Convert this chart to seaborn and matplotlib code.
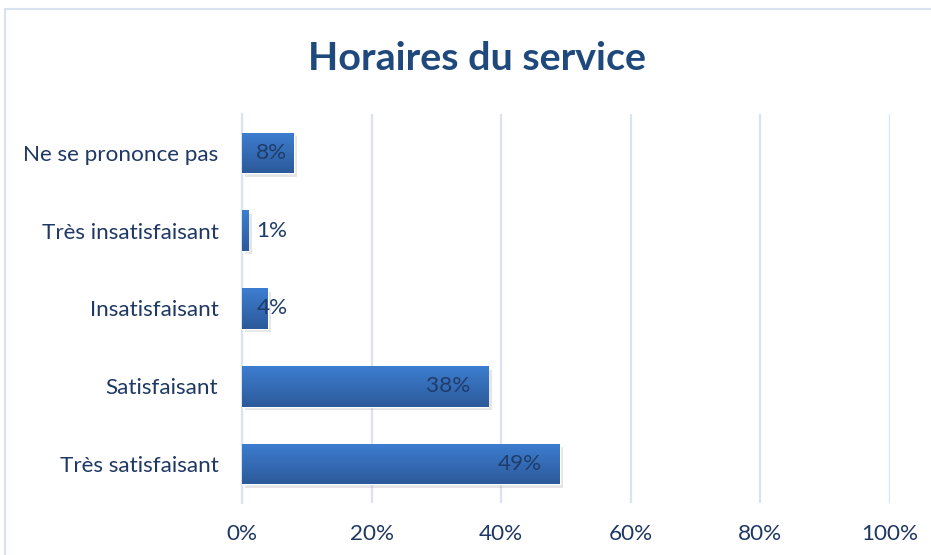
import numpy as np
import pandas as pd
import matplotlib
matplotlib.use("Agg")
import matplotlib.pyplot as plt
import matplotlib.patheffects as pe
from matplotlib.patches import Rectangle
from matplotlib.colors import LinearSegmentedColormap
from matplotlib.ticker import FuncFormatter
import seaborn as sns

categories = ["Ne se prononce pas", "Très insatisfaisant", "Insatisfaisant",
              "Satisfaisant", "Très satisfaisant"]
values = [8, 1, 4, 38, 49]
xticks = [0, 20, 40, 60, 80, 100]

df = pd.DataFrame({"cat": categories, "val": values})

sns.set_style("white")
plt.rcParams["font.family"] = ["Lato", "DejaVu Sans"]

text_col = "#1f3864"
grid_col = "#d9e3f1"

fig = plt.figure(figsize=(9.31, 5.55), dpi=100)
ax = fig.add_axes([242 / 931, 1 - 503 / 555, 648 / 931, 389 / 555])

sns.barplot(data=df, x="val", y="cat", orient="h", width=0.52,
            color="#3670c0", ax=ax, zorder=3)

# gradient + soft shadow on bars
grad = LinearSegmentedColormap.from_list("g", ["#3d7dd0", "#2c5a9a"])
for p in ax.patches:
    p.set_path_effects([pe.SimplePatchShadow(offset=(2.5, -2.5), shadow_rgbFace="#9a9a9a", alpha=0.25),
                        pe.Normal()])
    x0, y0 = p.get_x(), p.get_y()
    w, h = p.get_width(), p.get_height()
    im = ax.imshow(np.linspace(0, 1, 50).reshape(-1, 1), cmap=grad, aspect="auto",
                   extent=(x0, x0 + w, y0 + h, y0), origin="upper", zorder=4)
    im.set_clip_path(p)

# data labels
for i, v in enumerate(values):
    if v >= 10:
        ax.text(v - 2.7, i, f"{v}%", ha="right", va="center", fontsize=16.2,
                color="#1f3d6b", zorder=6)
    else:
        ax.text(2.2, i, f"{v}%", ha="left", va="center", fontsize=16.2,
                color="#1f3d6b", zorder=6)

ax.set_xlim(0, 100)
ax.set_ylim(4.5, -0.5)
ax.set_xticks(xticks)
ax.xaxis.set_major_formatter(FuncFormatter(lambda x, _: f"{x:.0f}%"))
ax.xaxis.grid(True, color=grid_col, linewidth=1.6, zorder=0)
ax.set_axisbelow(True)
for s in ["top", "right", "bottom"]:
    ax.spines[s].set_visible(False)
ax.spines["left"].set_color(grid_col)
ax.spines["left"].set_linewidth(1.6)
ax.tick_params(axis="x", length=0, pad=15, labelsize=16.2, labelcolor=text_col)
ax.tick_params(axis="y", length=0, pad=17, labelsize=16.2, labelcolor=text_col)
ax.set_xlabel("")
ax.set_ylabel("")

fig.text(477 / 931, 1 - 58 / 555, "Horaires du service", ha="center", va="center",
         fontsize=28.4, fontweight="bold", color="#1f497d")

fig.patches.append(Rectangle((5 / 931, -0.1), 1.2, 1.1 - 9 / 555, transform=fig.transFigure,
                             fill=False, edgecolor="#d9e2ef", linewidth=1.5))

fig.savefig("out.png", dpi=100)
